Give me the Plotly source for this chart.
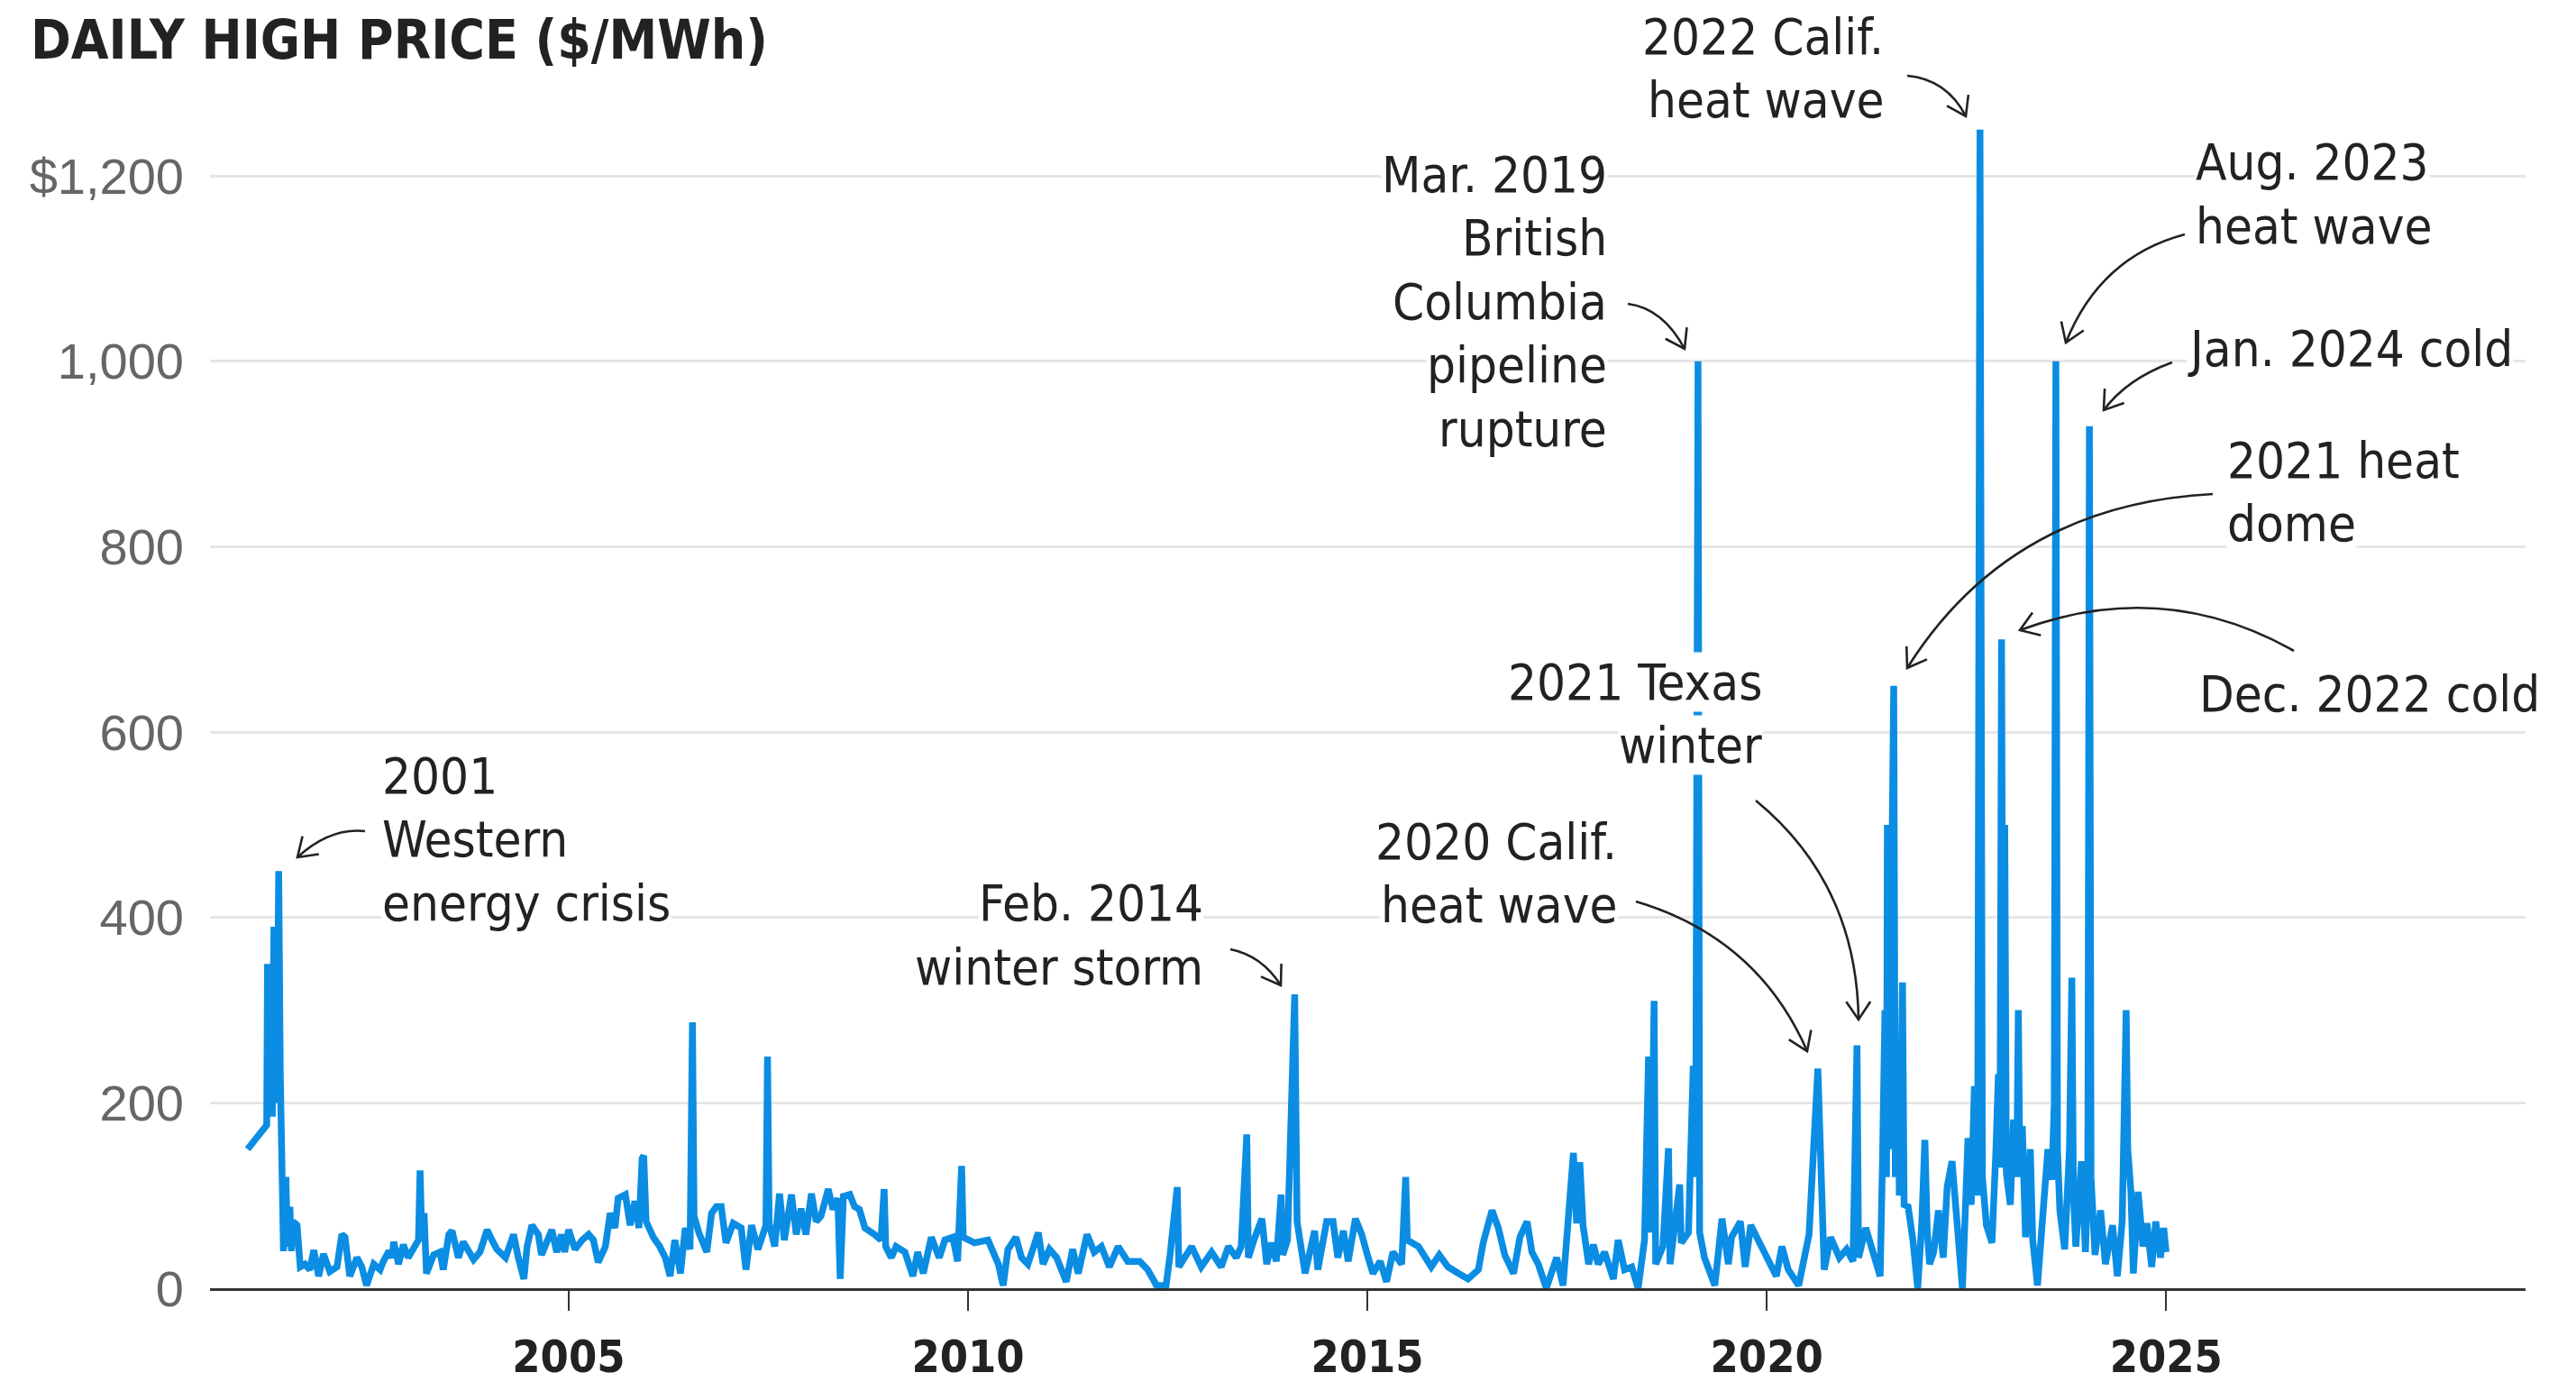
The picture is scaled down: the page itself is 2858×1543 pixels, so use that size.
import math
import plotly.graph_objects as go

# ---------------- data (decimal year, $/MWh) ----------------
years = [
    2000.98, 2001.22, 2001.23, 2001.25, 2001.27, 2001.29, 2001.31, 2001.33, 2001.35, 2001.37,
    2001.39, 2001.41, 2001.43, 2001.46, 2001.48, 2001.51, 2001.53, 2001.55, 2001.60, 2001.64,
    2001.70, 2001.76, 2001.81, 2001.87, 2001.93, 2002.01, 2002.10, 2002.16, 2002.20, 2002.26,
    2002.35, 2002.41, 2002.47, 2002.56, 2002.64, 2002.68, 2002.75, 2002.79, 2002.81, 2002.87,
    2002.93, 2002.99, 2003.06, 2003.12, 2003.14, 2003.16, 2003.19, 2003.22, 2003.31, 2003.39,
    2003.43, 2003.50, 2003.54, 2003.62, 2003.68, 2003.75, 2003.81, 2003.89, 2003.98, 2004.04,
    2004.10, 2004.21, 2004.31, 2004.37, 2004.44, 2004.48, 2004.54, 2004.62, 2004.66, 2004.79,
    2004.85, 2004.91, 2004.95, 2005.00, 2005.08, 2005.17, 2005.25, 2005.31, 2005.37, 2005.46,
    2005.52, 2005.58, 2005.62, 2005.71, 2005.77, 2005.83, 2005.88, 2005.92, 2005.94, 2005.97,
    2006.06, 2006.14, 2006.21, 2006.27, 2006.33, 2006.40, 2006.46, 2006.52, 2006.55, 2006.57,
    2006.63, 2006.73, 2006.79, 2006.85, 2006.91, 2006.97, 2007.06, 2007.16, 2007.22, 2007.29,
    2007.37, 2007.47, 2007.49, 2007.51, 2007.58, 2007.64, 2007.70, 2007.79, 2007.85, 2007.91,
    2007.97, 2008.04, 2008.10, 2008.16, 2008.25, 2008.31, 2008.37, 2008.40, 2008.44, 2008.52,
    2008.58, 2008.64, 2008.71, 2008.83, 2008.91, 2008.95, 2008.97, 2009.04, 2009.10, 2009.21,
    2009.31, 2009.37, 2009.44, 2009.54, 2009.64, 2009.71, 2009.81, 2009.87, 2009.92, 2009.94,
    2010.08, 2010.25, 2010.31, 2010.38, 2010.44, 2010.50, 2010.60, 2010.67, 2010.75, 2010.88,
    2010.94, 2011.02, 2011.11, 2011.23, 2011.31, 2011.38, 2011.49, 2011.58, 2011.67, 2011.77,
    2011.88, 2012.00, 2012.15, 2012.25, 2012.36, 2012.48, 2012.53, 2012.62, 2012.64, 2012.80,
    2012.92, 2013.05, 2013.17, 2013.26, 2013.36, 2013.42, 2013.49, 2013.51, 2013.58, 2013.68,
    2013.74, 2013.80, 2013.86, 2013.92, 2013.94, 2014.00, 2014.09, 2014.12, 2014.22, 2014.34,
    2014.38, 2014.49, 2014.57, 2014.63, 2014.70, 2014.76, 2014.85, 2014.93, 2014.99, 2015.07,
    2015.16, 2015.24, 2015.32, 2015.43, 2015.48, 2015.50, 2015.64, 2015.72, 2015.80, 2015.90,
    2016.01, 2016.14, 2016.26, 2016.39, 2016.45, 2016.56, 2016.64, 2016.72, 2016.83, 2016.91,
    2017.00, 2017.06, 2017.14, 2017.24, 2017.37, 2017.45, 2017.49, 2017.58, 2017.62, 2017.66,
    2017.70, 2017.77, 2017.83, 2017.89, 2017.97, 2018.08, 2018.14, 2018.22, 2018.31, 2018.39,
    2018.47, 2018.52, 2018.55, 2018.59, 2018.61, 2018.70, 2018.77, 2018.79, 2018.91, 2018.93,
    2019.02, 2019.08, 2019.11, 2019.14, 2019.16, 2019.22, 2019.35, 2019.44, 2019.52, 2019.56,
    2019.67, 2019.73, 2019.80, 2019.89, 2020.00, 2020.12, 2020.19, 2020.27, 2020.40, 2020.53,
    2020.64, 2020.67, 2020.72, 2020.80, 2020.91, 2021.00, 2021.08, 2021.13, 2021.15, 2021.24,
    2021.31, 2021.42, 2021.45, 2021.48, 2021.50, 2021.51, 2021.53, 2021.56, 2021.59, 2021.61,
    2021.64, 2021.66, 2021.70, 2021.72, 2021.77, 2021.83, 2021.89, 2021.94, 2021.98, 2022.01,
    2022.04, 2022.09, 2022.15, 2022.21, 2022.26, 2022.32, 2022.38, 2022.45, 2022.52, 2022.56,
    2022.60, 2022.64, 2022.67, 2022.70, 2022.75, 2022.82, 2022.87, 2022.90, 2022.92, 2022.94,
    2022.96, 2022.98, 2023.00, 2023.05, 2023.09, 2023.13, 2023.15, 2023.17, 2023.20, 2023.24,
    2023.30, 2023.33, 2023.39, 2023.45, 2023.52, 2023.57, 2023.60, 2023.62, 2023.64, 2023.67,
    2023.73, 2023.79, 2023.82, 2023.84, 2023.87, 2023.94, 2023.99, 2024.02, 2024.04, 2024.06,
    2024.11, 2024.18, 2024.24, 2024.33, 2024.39, 2024.45, 2024.50, 2024.52, 2024.56, 2024.59,
    2024.65, 2024.71, 2024.76, 2024.82, 2024.87, 2024.93, 2024.97, 2025.00,
]
prices = [
    150, 176, 350, 195, 320, 185, 390, 200, 260, 450,
    230, 60, 40, 120, 45, 88, 40, 72, 68, 23,
    26, 20, 41, 13, 37, 18, 23, 58, 55, 13,
    33, 23, 3, 26, 20, 29, 40, 33, 50, 26,
    47, 33, 42, 52, 127, 60, 81, 16, 36, 39,
    20, 58, 62, 33, 50, 39, 31, 39, 63, 52,
    42, 33, 58, 33, 10, 45, 68, 58, 36, 63,
    39, 58, 39, 63, 42, 52, 58, 52, 28, 45,
    81, 65, 97, 101, 68, 94, 65, 140, 143, 72,
    55, 45, 33, 13, 52, 16, 65, 42, 287, 78,
    60, 39, 81, 88, 88, 49, 70, 65, 20, 68,
    42, 68, 250, 70, 45, 102, 52, 101, 58, 86,
    58, 102, 72, 78, 107, 85, 97, 10, 99, 101,
    88, 85, 65, 58, 52, 107, 45, 33, 45, 39,
    13, 39, 16, 55, 33, 52, 55, 29, 132, 55,
    49, 52, 39, 26, 3, 42, 55, 33, 26, 60,
    26, 42, 33, 7, 42, 16, 58, 39, 45, 23,
    45, 29, 29, 20, 3, 3, 36, 109, 23, 45,
    23, 39, 23, 45, 33, 45, 166, 33, 52, 75,
    26, 49, 29, 101, 36, 52, 317, 72, 16, 62,
    20, 72, 72, 33, 62, 29, 75, 58, 39, 16,
    29, 7, 39, 26, 120, 52, 45, 33, 23, 36,
    23, 16, 10, 20, 49, 84, 65, 36, 16, 55,
    72, 39, 26, 0, 33, 3, 55, 146, 70, 136,
    68, 26, 47, 26, 39, 10, 52, 20, 23, 0,
    52, 250, 60, 310, 26, 45, 151, 26, 112, 49,
    60, 240, 120, 1000, 60, 33, 3, 75, 26, 55,
    72, 23, 68, 52, 36, 13, 45, 20, 3, 58,
    237, 143, 20, 55, 33, 42, 29, 262, 33, 65,
    42, 13, 140, 300, 120, 500, 150, 400, 650, 120,
    250, 100, 330, 90, 88, 52, 0, 68, 160, 60,
    26, 39, 84, 33, 110, 137, 78, 0, 162, 90,
    218, 100, 1250, 120, 68, 49, 150, 231, 130, 700,
    150, 500, 124, 90, 182, 120, 300, 120, 175, 55,
    150, 52, 3, 84, 150, 117, 200, 1000, 150, 84,
    42, 150, 335, 100, 45, 137, 39, 120, 930, 120,
    36, 84, 26, 68, 13, 72, 300, 150, 104, 16,
    104, 45, 70, 23, 72, 33, 65, 39,
]

y_tick_values = [0, 200, 400, 600, 800, 1000, 1200]
y_tick_labels = ["0", "200", "400", "600", "800", "1,000", "$1,200"]
x_tick_values = [2005, 2010, 2015, 2020, 2025]
x_tick_labels = ["2005", "2010", "2015", "2020", "2025"]

title_text = "DAILY HIGH PRICE ($/MWh)"

# annotation texts
event_labels = [
    ["2001", "Western", "energy crisis"],
    ["Feb. 2014", "winter storm"],
    ["Mar. 2019", "British", "Columbia", "pipeline", "rupture"],
    ["2022 Calif.", "heat wave"],
    ["Aug. 2023", "heat wave"],
    ["Jan. 2024 cold"],
    ["2021 heat", "dome"],
    ["Dec. 2022 cold"],
    ["2021 Texas", "winter"],
    ["2020 Calif.", "heat wave"],
]

# ---------------- layout geometry ----------------
# the page body adds an 8px margin, so the figure is drawn 8px in from the window edge
PAGE_OFF = 8
W, H = 2858 - 2 * PAGE_OFF, 1543 - 2 * PAGE_OFF
# plot area in window pixels: x 233..2802, y 113..1429
PLOT_L, PLOT_R, PLOT_T, PLOT_B = 233, 2802, 113, 1429
L = PLOT_L - PAGE_OFF
R = W - (PLOT_R - PAGE_OFF)
T = PLOT_T - PAGE_OFF
B = H - (PLOT_B - PAGE_OFF)
X_RANGE = [2000.51, 2029.5]
Y_RANGE = [0, 1280]

# label placement in window pixels: (anchor x, align, first line centre y)
label_pos = [
    (423, "left", 860),
    (1336, "right", 1002),
    (1784, "right", 193),
    (2091, "right", 40),
    (2435, "left", 180),
    (2426, "left", 386),
    (2470, "left", 510),
    (2439, "left", 769),
    (1956, "right", 756),
    (1795, "right", 933),
]
LINE_GAP = 70.6
# arrows in window pixels: start, control, end
arrow_pos = [
    ((405, 922), (366, 918), (330, 951)),
    ((1365, 1053), (1400, 1060), (1421, 1093)),
    ((1806, 337), (1845, 342), (1869, 387)),
    ((2116, 84), (2160, 88), (2181, 129)),
    ((2424, 260), (2330, 285), (2292, 380)),
    ((2410, 402), (2360, 420), (2334, 455)),
    ((2455, 548), (2230, 560), (2116, 741)),
    ((2545, 722), (2400, 640), (2241, 699)),
    ((1948, 888), (2060, 980), (2062, 1131)),
    ((1815, 1000), (1950, 1040), (2005, 1166)),
]

NARROW = "DejaVu Sans Condensed, Liberation Sans Narrow, sans-serif"
REG = "Liberation Sans, Arial, DejaVu Sans, sans-serif"
INK = "#222222"


def pxp(px):
    return (px - PLOT_L) / (PLOT_R - PLOT_L)


def pyp(py):
    return (PLOT_B - py) / (PLOT_B - PLOT_T)


fig = go.Figure()
fig.add_trace(go.Scatter(
    x=years, y=prices, mode="lines",
    line=dict(color="#0b8de3", width=7.5),
    hoverinfo="skip", showlegend=False,
))

annotations = []
shapes = []

annotations.append(dict(
    text=title_text, xref="paper", yref="paper", x=pxp(33), y=pyp(44),
    xanchor="left", yanchor="middle", showarrow=False, borderpad=0,
    font=dict(family=NARROW, size=60, color=INK, weight="bold"),
))

for lines, (ax, align, ay) in zip(event_labels, label_pos):
    for i, ln in enumerate(lines):
        annotations.append(dict(
            text=ln, xref="paper", yref="paper", x=pxp(ax), y=pyp(ay + i * LINE_GAP),
            xanchor=align, yanchor="middle", showarrow=False, bgcolor="white",
            borderpad=0, font=dict(family=NARROW, size=56, color=INK),
        ))

for S, C, E in arrow_pos:
    shapes.append(dict(
        type="path", xref="paper", yref="paper", layer="above",
        path=f"M {pxp(S[0])},{pyp(S[1])} Q {pxp(C[0])},{pyp(C[1])} {pxp(E[0])},{pyp(E[1])}",
        line=dict(color=INK, width=2.6),
    ))
    dx, dy = E[0] - C[0], E[1] - C[1]
    n = math.hypot(dx, dy)
    ux, uy = dx / n, dy / n
    pts = []
    for s in (1, -1):
        a = math.radians(34) * s
        bx = -(ux * math.cos(a) - uy * math.sin(a))
        by = -(ux * math.sin(a) + uy * math.cos(a))
        pts.append((E[0] + 24 * bx, E[1] + 24 * by))
    shapes.append(dict(
        type="path", xref="paper", yref="paper", layer="above",
        path=(f"M {pxp(pts[0][0])},{pyp(pts[0][1])} L {pxp(E[0])},{pyp(E[1])} "
              f"L {pxp(pts[1][0])},{pyp(pts[1][1])}"),
        line=dict(color=INK, width=2.6),
    ))

fig.update_layout(
    width=W, height=H,
    margin=dict(l=L, r=R, t=T, b=B, pad=0, autoexpand=False),
    paper_bgcolor="white", plot_bgcolor="white",
    showlegend=False,
    annotations=annotations,
    shapes=shapes,
    xaxis=dict(
        range=X_RANGE, tickvals=x_tick_values, ticktext=x_tick_labels,
        showgrid=False, zeroline=False, automargin=False,
        showline=True, linecolor="#333333", linewidth=3,
        ticks="outside", ticklen=22, tickwidth=2, tickcolor="#333333",
        ticklabelstandoff=8,
        tickfont=dict(family=NARROW, size=50, color=INK, weight="bold"),
    ),
    yaxis=dict(
        range=Y_RANGE, tickvals=y_tick_values, ticktext=y_tick_labels,
        showgrid=True, gridcolor="#e6e6e6", gridwidth=2.5,
        zeroline=False, showline=False, ticks="", automargin=False,
        ticklabelstandoff=28,
        tickfont=dict(family=REG, size=56, color="#666666"),
    ),
)

fig.write_html("out.html")
